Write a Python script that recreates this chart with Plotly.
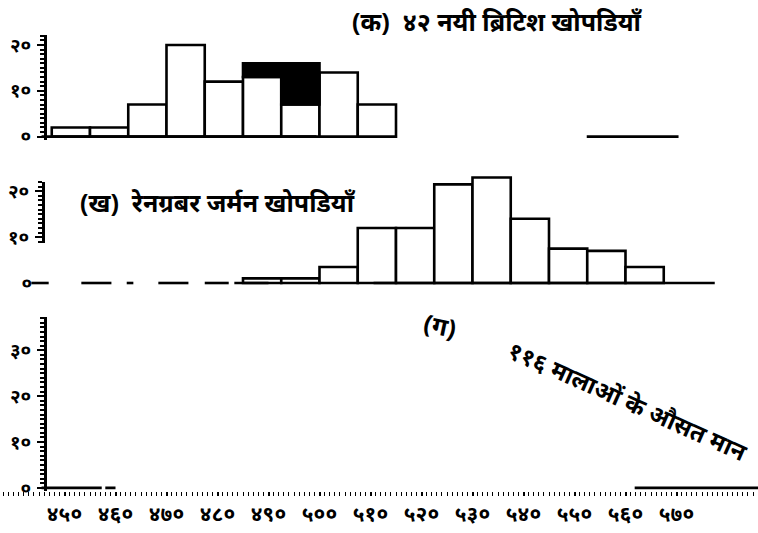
import plotly.graph_objects as go

# ---------------- data ----------------
# class intervals (lower bounds, measurement scale)
bin_starts = [447.5, 455.0, 462.5, 470.0, 477.5, 485.0, 492.5, 500.0, 507.5,
              515.0, 522.5, 530.0, 537.5, 545.0, 552.5, 560.0]
bin_width = 7.5

# (क) 42 new British skulls: white part and black (shaded) part
british_white = [2, 2, 7, 20, 12, 13, 7, 14, 7, 0, 0, 0, 0, 0, 0, 0]
british_black = [0, 0, 0, 0, 0, 3, 9, 0, 0, 0, 0, 0, 0, 0, 0, 0]

# (ख) Reihengräber German skulls
german = [0, 0, 0, 0, 0, 1, 1, 3.5, 12, 12, 21.5, 23, 14, 7.5, 7, 3.5]

# x tick labels (Devanagari numerals)
xtick_vals = [450, 460, 470, 480, 490, 500, 510, 520, 530, 540, 550, 560, 570]
xtick_text = ["४५०", "४६०", "४७०", "४८०", "४९०", "५००", "५१०", "५२०", "५३०",
              "५४०", "५५०", "५६०", "५७०"]

# y tick labels
ytick_vals_a = [0, 10, 20]
ytick_text_a = ["०", "१०", "२०"]
ytick_vals_c = [0, 10, 20, 30]
ytick_text_c = ["०", "१०", "२०", "३०"]

# visible (printed) pieces of the base lines, measurement scale
base_a = [(445.5, 499.4), (552.4, 570.4)]
base_b = [(443.5, 446.9), (453.3, 459.2), (462.2, 463.5), (468.4, 474.3),
          (477.5, 482.2), (483.3, 490.0), (510.6, 577.5)]
base_c = [(445.5, 457.3), (458.0, 460.0), (561.8, 586.3)]

titles = {
    "a": "(क)  ४२ नयी ब्रिटिश खोपडियाँ",
    "b": "(ख)  रेनग्रबर जर्मन खोपडियाँ",
    "c1": "(ग)",
    "c2": "११६ मालाओं के औसत मान",
}

# ---------------- layout helpers ----------------
W, H = 758, 533
PX_PER_X = 5.1          # pixels per measurement unit
X450_PX = 64.5          # pixel of the 450 tick
PX_PER_Y = 4.7          # pixels per frequency unit


def fy(px):
    return 1 - px / H


def yrange(base_px, top_px, bottom_px):
    return [-(bottom_px - base_px) / PX_PER_Y, (base_px - top_px) / PX_PER_Y]


xr = [450 - X450_PX / PX_PER_X, 450 + (W - X450_PX) / PX_PER_X]
FONT = "Noto Sans, Lato, DejaVu Sans, sans-serif"

fig = go.Figure()

centers = [s + bin_width / 2 for s in bin_starts]
line_style = dict(color="black", width=2.6)


def add_bars(xs, heights, bases, color, xa, ya):
    pts = [(x, h, b) for x, h, b in zip(xs, heights, bases) if h > 0]
    fig.add_trace(go.Bar(
        x=[p[0] for p in pts], y=[p[1] for p in pts], base=[p[2] for p in pts],
        width=bin_width, marker=dict(color=color, line=line_style),
        xaxis=xa, yaxis=ya, showlegend=False, hoverinfo="skip"))


def add_base(segs, xa, ya):
    xs, ys = [], []
    for a, b in segs:
        xs += [a, b, None]
        ys += [0, 0, None]
    fig.add_trace(go.Scatter(x=xs, y=ys, mode="lines",
                             line=dict(color="black", width=2.6),
                             xaxis=xa, yaxis=ya, showlegend=False,
                             hoverinfo="skip"))


# panel (क)
add_base(base_a, "x", "y")
add_bars(centers, british_white, [0] * len(centers), "white", "x", "y")
add_bars(centers, british_black, british_white, "black", "x", "y")

# panel (ख)
add_base(base_b, "x2", "y2")
add_bars(centers, german, [0] * len(centers), "white", "x2", "y2")
fig.add_trace(go.Scatter(x=[None], y=[None], xaxis="x2", yaxis="y4",
                         showlegend=False, hoverinfo="skip"))

# panel (ग)
add_base(base_c, "x3", "y3")

hidden_x = dict(range=xr, domain=[0, 1], showticklabels=False, ticks="",
                showline=False, showgrid=False, zeroline=False)

tickfont = dict(family=FONT, size=19, color="black", weight="bold")


def ruler(rng, dom, vals, text, pos, show_line=True):
    d = dict(range=rng, domain=dom, anchor="free", position=pos,
             showgrid=False, zeroline=False, tickvals=vals, ticktext=text,
             tickfont=tickfont, ticklabelstandoff=2)
    if show_line:
        d.update(showline=True, linecolor="black", linewidth=3,
                 ticks="outside", ticklen=7, tickwidth=2, tickcolor="black",
                 minor=dict(dtick=1, tick0=0, ticks="outside", ticklen=4,
                            tickwidth=1.5, tickcolor="black"))
    else:
        d.update(showline=False, ticks="outside", ticklen=7,
                 tickcolor="rgba(0,0,0,0)")
    return d


fig.update_layout(
    width=W, height=H,
    margin=dict(l=0, r=0, t=0, b=0),
    paper_bgcolor="white", plot_bgcolor="rgba(0,0,0,0)",
    barmode="overlay",
    xaxis=dict(hidden_x, anchor="y"),
    xaxis2=dict(hidden_x, anchor="y2"),
    xaxis3=dict(range=xr, domain=[0, 1], anchor="y3", showgrid=False,
                zeroline=False, showline=False,
                tickvals=xtick_vals, ticktext=xtick_text,
                tickfont=dict(family=FONT, size=21, color="black",
                              weight="bold"),
                ticks="outside", ticklen=4, tickwidth=1.5, tickcolor="black",
                minor=dict(dtick=1, tick0=0, ticks="outside", ticklen=4,
                           tickwidth=1.2, tickcolor="black"),
                ticklabelstandoff=0),
    yaxis=ruler(yrange(137, 33, 140), [fy(140), fy(33)],
                ytick_vals_a, ytick_text_a, 45 / W),
    yaxis2=ruler(yrange(287, 170, 290), [fy(290), fy(170)],
                 [0], ["०"], 45 / W, show_line=False),
    yaxis4=ruler([(287 - 246) / PX_PER_Y, (287 - 183) / PX_PER_Y],
                 [fy(246), fy(183)], [10, 20], ["१०", "२०"], 43 / W),
    yaxis3=ruler(yrange(497, 322, 500), [fy(500), fy(322)],
                 ytick_vals_c, ytick_text_c, 45 / W),
)

tfont = dict(family=FONT, size=25, color="black", weight="bold")


def note(text, xpx, ypx, angle=0, size=25):
    fig.add_annotation(text=text, xref="paper", yref="paper",
                       x=xpx / W, y=fy(ypx), xanchor="center",
                       yanchor="middle", showarrow=False,
                       font=dict(tfont, size=size), textangle=angle)


note(titles["a"], 497, 18)
note(titles["b"], 218, 204)
note(titles["c1"], 440, 330, 12)
note(titles["c2"], 628, 407, 24, 24)

fig.write_html("out.html", config={"displayModeBar": False},
               post_script="document.body.style.margin='0px';")
